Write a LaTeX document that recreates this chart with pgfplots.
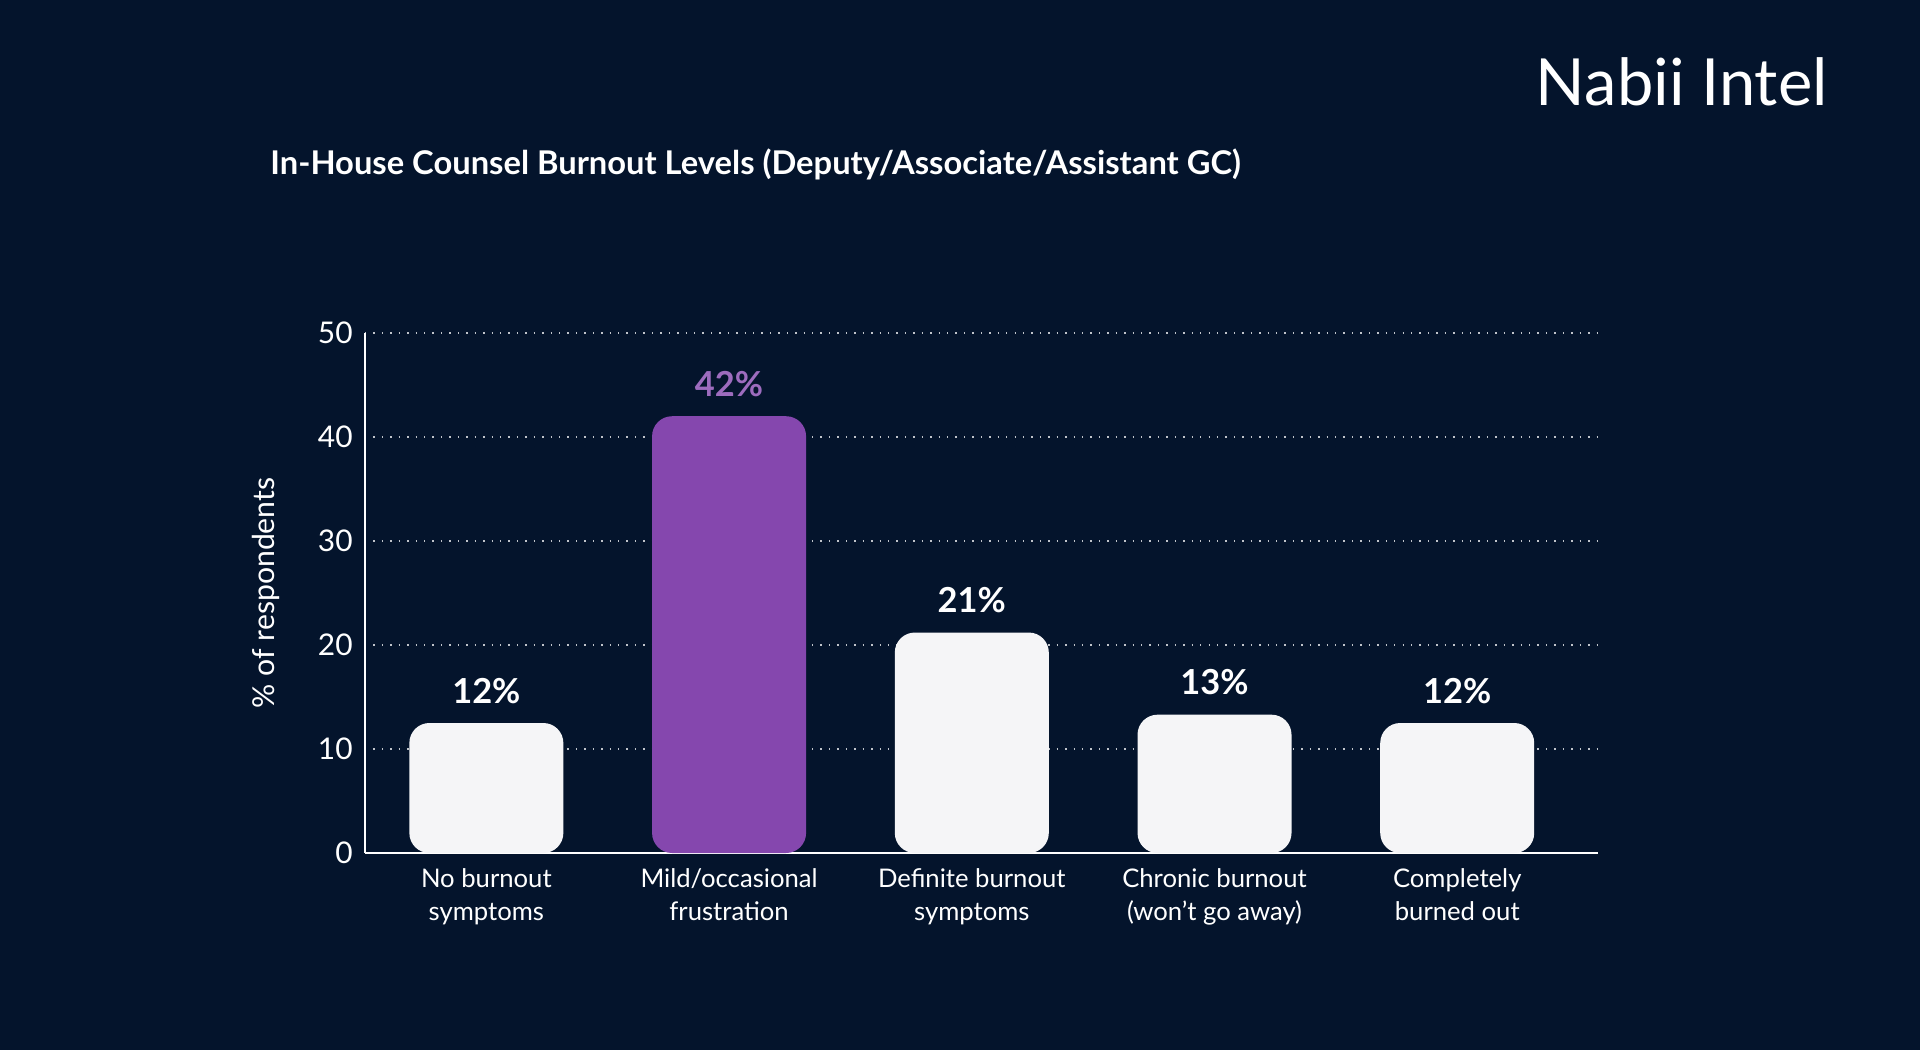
\documentclass[border=0pt]{standalone}
\usepackage{pgfplots}
\pgfplotsset{compat=1.18}
\usepackage{fontspec}
\setmainfont{Lato}
\definecolor{bg}{RGB}{4,20,44}
\definecolor{purp}{RGB}{133,71,174}
\definecolor{barw}{RGB}{245,245,247}
\begin{document}
\begin{tikzpicture}
\fill[bg] (0,0) rectangle (192mm,105mm);
\node[anchor=east,text=white,font=\fontsize{18.5}{20}\selectfont] at (184mm,96.8mm) {Nabii Intel};
\node[anchor=west,text=white,font=\bfseries\fontsize{9.3}{11}\selectfont] at (25.8mm,88.6mm) {In-House Counsel Burnout Levels (Deputy/Associate/Assistant GC)};
\begin{axis}[
  at={(36.5mm,19.7mm)}, anchor=south west,
  scale only axis, width=123.3mm, height=52mm,
  ymin=0, ymax=50, xmin=-0.5, xmax=4.58,
  ytick={0,10,...,50},
  xtick={0,1,2,3,4},
  xticklabels={{No burnout\\symptoms},{Mild/occasional\\frustration},{Definite burnout\\symptoms},{Chronic burnout\\(won't go away)},{Completely\\burned out}},
  xticklabel style={align=center,text=white,font=\fontsize{7.3}{9.2}\selectfont,yshift=-1pt},
  yticklabel style={text=white,font=\fontsize{8.5}{9}\selectfont},
  /pgf/number format/assume math mode=true,
  axis x line*=bottom, axis y line*=left,
  axis line style={white,line width=0.5pt},
  major tick length=0pt,
  ymajorgrids, grid style={white!75!bg,dotted,line width=0.5pt},
  ylabel={\% of respondents},
  every axis y label/.style={at={(axis description cs:-0.08,0.5)},rotate=90,anchor=center,text=white,font=\fontsize{8.6}{9}\selectfont},
  ybar, bar width=15.4mm, bar shift=0pt,
  point meta=explicit symbolic,
  nodes near coords,
  nodes near coords style={font=\bfseries\fontsize{9.8}{11}\selectfont,text=white,yshift=2pt},
  clip=false,
]
\addplot[draw=none,fill=barw,rounded corners=2mm] coordinates {(0,12.5)[12\%] (2,21.2)[21\%] (3,13.3)[13\%] (4,12.5)[12\%]};
\addplot[draw=none,fill=purp,rounded corners=2mm,nodes near coords style={text=purp!80!white}] coordinates {(1,42)[42\%]};
\end{axis}
\end{tikzpicture}
\end{document}
